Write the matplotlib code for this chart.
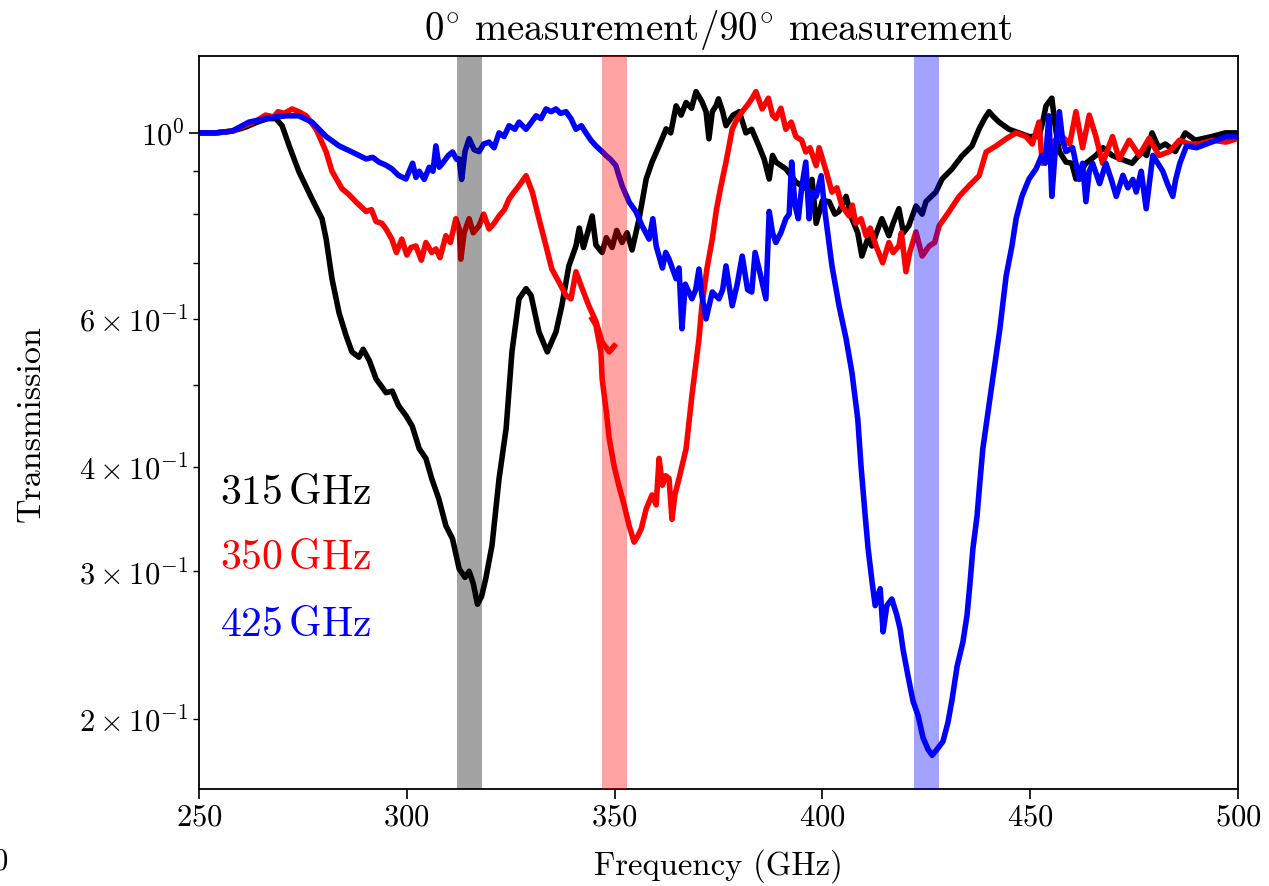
import matplotlib
matplotlib.use("Agg")
import matplotlib.pyplot as plt
import numpy as np

plt.rcParams.update({
    "font.family": "serif",
    "font.serif": ["cmr10"],
    "mathtext.fontset": "cm",
    "axes.formatter.use_mathtext": True,
    "axes.unicode_minus": False,
})

# 315 GHz filter (black)
f_315 = [250, 254, 258, 261, 264, 266.5, 268.5, 270, 271.7, 274, 277.2, 279.6, 280.6, 282, 283.7,
         285.4, 286.8, 288.5, 289.5, 291, 292.6, 295, 296.5, 298, 299.8, 301.3, 303, 304.6, 306,
         307.7, 309.4, 311, 312.6, 314, 315, 316, 317, 318, 319, 320.5, 322.2, 323.9, 325.3, 327,
         328.7, 329.9, 331.8, 333.8, 335.9, 337.3, 339, 340.7, 341.5, 342.5, 343.5, 344.6, 345.5,
         347, 348, 349.4, 350.5, 351.8, 353, 354.2, 355.9, 357.6, 359, 360.7, 362.4, 363.5, 364.8,
         366, 367.2, 368.5, 369.6, 371, 372, 372.7, 373.5, 374.4, 375, 376, 376.8, 378.5, 380,
         381.6, 383, 384.7, 386, 387.2, 388, 388.8, 391.2, 393.6, 396, 397.5, 398.5, 400, 401.6,
         403, 404, 405.7, 407.1, 408.5, 409.5, 411, 411.9, 413, 414.3, 416, 417, 418.4, 419.5,
         420.8, 422.5, 424, 424.9, 427.3, 428.8, 431.2, 433.6, 436, 437.7, 439, 440.1, 441.2,
         442.5, 444.9, 447.3, 449.7, 452.1, 453, 453.8, 455.2, 456, 457, 458.6, 460, 461, 463.4,
         465.8, 467.5, 469.7, 472, 474.5, 476.9, 478, 479.3, 480.9, 482.5, 484.9, 487.3, 489.7,
         493.7, 496.9, 500]
t_315 = [1.0, 1.0, 1.005, 1.015, 1.03, 1.04, 1.04, 1.02, 0.965, 0.90, 0.834, 0.79, 0.747, 0.67, 0.61,
         0.573, 0.548, 0.54, 0.552, 0.535, 0.509, 0.49, 0.492, 0.473, 0.46, 0.447, 0.42, 0.409, 0.387,
         0.366, 0.34, 0.328, 0.302, 0.295, 0.30, 0.29, 0.274, 0.28, 0.294, 0.322, 0.387, 0.444, 0.548, 0.634,
         0.652, 0.64, 0.579, 0.548, 0.579, 0.622, 0.694, 0.733, 0.77, 0.73, 0.76, 0.796, 0.735,
         0.72, 0.75, 0.73, 0.765, 0.74, 0.76, 0.725, 0.79, 0.881, 0.923, 0.965, 1.011, 1.00, 1.077,
         1.05, 1.087, 1.07, 1.12, 1.09, 1.06, 0.984, 1.06, 1.077, 1.098, 1.06, 1.02, 1.05, 1.06,
         1.0, 1.01, 0.965, 0.93, 0.881, 0.94, 0.923, 0.906, 0.874, 0.858, 0.88, 0.78, 0.83, 0.828,
         0.80, 0.806, 0.84, 0.79, 0.76, 0.713, 0.75, 0.733, 0.76, 0.79, 0.754, 0.78, 0.812, 0.76,
         0.775, 0.818, 0.80, 0.828, 0.85, 0.881, 0.906, 0.939, 0.965, 1.011, 1.04, 1.06, 1.045,
         1.03, 1.01, 1.0, 0.99, 0.99, 1.03, 1.077, 1.10, 1.02, 0.95, 0.923, 0.92, 0.881, 0.92,
         0.94, 0.96, 0.94, 0.93, 0.92, 0.95, 0.94, 1.0, 0.96, 0.97, 0.95, 1.0, 0.98,
         0.99, 1.0, 1.0]

# 350 GHz filter (red), two frequency sweeps
f_350a = [250, 254, 258, 261, 264, 266, 268, 269, 270.5, 272.4, 274, 275.8, 278.2, 280.6, 282, 284.4,
          286, 287.8, 290.2, 291.5, 292.6, 294, 295, 296.4, 297.5, 298.8, 300, 301, 302.2, 303.5,
          304.6, 306, 307, 308, 309.4, 310.5, 311.8, 312.6, 313, 313.8, 315, 316, 317.4, 318.5,
          319.8, 321, 322.2, 323.5, 324.6, 325.8, 327, 328.7, 330.2, 331.8, 333.5, 334.9, 336.6,
          338.3, 339.5, 340.7, 342.2, 343.8, 345.5, 347, 348.7, 349.9]
t_350a = [1.0, 1.0, 1.005, 1.02, 1.035, 1.05, 1.045, 1.06, 1.055, 1.068, 1.06, 1.048, 1.01, 0.949, 0.90, 0.858,
          0.845, 0.827, 0.806, 0.81, 0.784, 0.78, 0.768, 0.747, 0.72, 0.747, 0.715, 0.73, 0.733, 0.705,
          0.74, 0.72, 0.727, 0.71, 0.754, 0.74, 0.79, 0.768, 0.707, 0.76, 0.79, 0.76, 0.775, 0.80,
          0.768, 0.78, 0.796, 0.81, 0.834, 0.85, 0.865, 0.889, 0.85, 0.79, 0.733, 0.688, 0.664,
          0.64, 0.634, 0.683, 0.652, 0.622, 0.596, 0.563, 0.548, 0.557]
f_350b = [344.6, 345.5, 346.7, 347, 348, 348.7, 349.9, 351, 352.3, 353.5, 354.7, 355.5, 356.4, 357.6,
          359, 360, 360.7, 361.5, 362.3, 363.1, 363.8, 364.5, 365.5, 367.2, 368.6, 370.3, 371, 372.2,
          373.5, 374.5, 375.5, 376.8, 378.3, 379.5, 380.7, 382, 383, 384, 385.5, 387, 388, 388.8,
          390, 391.2, 392.5, 393.6, 395, 396, 397, 398.5, 399.2, 400.9, 402.3, 403.5, 404.7, 406.4,
          407.2, 408, 409.3, 410.5, 411.5, 412.9, 414.5, 416, 417, 418.4, 419, 420.1, 421, 422.5,
          424, 425.7, 427, 428.1, 430.5, 432.9, 435.3, 437.7, 439.4, 441.8, 444.2, 446.6, 449,
          450.5, 452.1, 452.9, 454.5, 456, 457.7, 459.5, 461, 462.6, 464.2, 465.8, 467.4, 469.8,
          471.4, 473.8, 476.2, 478.6, 481, 483.5, 485.9, 488.3, 490.7, 493.9, 497.1, 500]
t_350b = [0.60, 0.59, 0.548, 0.509, 0.465, 0.432, 0.40, 0.38, 0.36, 0.34, 0.325, 0.33, 0.337, 0.356,
          0.37, 0.36, 0.409, 0.38, 0.39, 0.387, 0.346, 0.37, 0.387, 0.42, 0.486, 0.568, 0.622, 0.688,
          0.747, 0.81, 0.86, 0.923, 1.01, 1.04, 1.06, 1.08, 1.098, 1.12, 1.068, 1.10, 1.05, 1.04,
          1.07, 1.01, 1.03, 0.99, 0.98, 0.949, 0.96, 0.914, 0.96, 0.90, 0.85, 0.86, 0.818, 0.796,
          0.82, 0.78, 0.79, 0.754, 0.77, 0.733, 0.70, 0.74, 0.72, 0.733, 0.76, 0.683, 0.72, 0.762,
          0.713, 0.733, 0.74, 0.775, 0.806, 0.84, 0.865, 0.889, 0.949, 0.965, 0.984, 1.0, 0.99,
          0.97, 1.03, 0.92, 0.965, 0.98, 0.99, 0.97, 1.06, 0.96, 1.05, 0.99, 0.92, 0.99,
          0.93, 0.98, 0.94, 0.985, 0.94, 0.95, 0.98, 0.97, 0.97, 0.98, 0.975, 0.985]

# 425 GHz filter (blue)
f_425 = [250, 254, 258, 262, 266.1, 268.5, 271, 274, 277.2, 280.6, 283.7, 286.8, 288.5, 290.2, 291.8,
         293.3, 295, 296.4, 298, 299.8, 300.6, 301.4, 302.2, 303, 304.2, 305.4, 306.3, 307, 307.8,
         308.6, 310, 311, 312, 312.6, 313.2, 314, 315, 316.2, 317.4, 318.5, 319.8, 321, 322.2,
         323.4, 324.6, 326, 327, 328.7, 330, 331.1, 332.3, 333.5, 334.7, 335.9, 337, 338.3, 339.5,
         340.7, 342, 343.1, 344.3, 345.5, 347, 347.9, 349, 350.3, 351, 351.8, 353.5, 355.1, 356.6,
         358.3, 359.2, 360, 361.5, 362.3, 363.1, 364.8, 365.5, 366.2, 367, 368.6, 369.5, 370.3,
         371, 372, 373.5, 375.1, 376, 376.8, 378.3, 379.5, 380.7, 382, 383, 383.8, 385, 386.4,
         387.2, 388, 388.8, 390, 391.2, 392, 392.6, 393.4, 394.2, 395, 396, 396.8, 397.6, 398.5,
         399.7, 400.6, 402.3, 404, 405.7, 407.1, 408.5, 409.3, 410.3, 411, 412, 412.7, 413.9,
         414.6, 415.5, 416.7, 417.9, 418.7, 419.4, 420.6, 421.8, 423, 424.2, 425.4, 426.4, 427.6,
         429, 430.2, 431.2, 432.4, 433.8, 434.8, 435.5, 436.2, 437.2, 437.9, 438.6, 440.3, 442.7,
         444.2, 445.6, 446.6, 448, 449.7, 451.4, 452.8, 453.6, 454.5, 455.2, 456, 457, 457.8,
         458.6, 460.2, 461.8, 462.6, 463.4, 464.2, 465, 466.7, 468.2, 469.5, 470.7, 472.3, 473.5,
         474.7, 475.5, 476.7, 477.9, 479.5, 480.7, 481.9, 483, 484.3, 485, 486, 487.6, 490,
         492.4, 494.8, 497.2, 500]
t_425 = [1.0, 1.0, 1.005, 1.03, 1.04, 1.045, 1.048, 1.048, 1.03, 0.99, 0.965, 0.949, 0.94, 0.931, 0.935,
         0.923, 0.915, 0.906, 0.89, 0.881, 0.90, 0.92, 0.885, 0.90, 0.88, 0.91, 0.90, 0.965, 0.91,
         0.92, 0.94, 0.949, 0.93, 0.931, 0.88, 0.95, 0.984, 0.955, 0.95, 0.97, 0.975, 0.96, 1.0,
         0.99, 1.02, 1.01, 1.03, 1.01, 1.03, 1.048, 1.04, 1.068, 1.06, 1.068, 1.055, 1.06, 1.04,
         1.01, 1.02, 1.0, 0.98, 0.965, 0.95, 0.94, 0.93, 0.914, 0.89, 0.865, 0.827, 0.806, 0.775,
         0.747, 0.79, 0.733, 0.69, 0.72, 0.707, 0.67, 0.69, 0.584, 0.66, 0.634, 0.65, 0.688,
         0.64, 0.60, 0.646, 0.634, 0.65, 0.694, 0.622, 0.66, 0.713, 0.65, 0.646, 0.72, 0.68, 0.634,
         0.806, 0.76, 0.74, 0.76, 0.79, 0.80, 0.923, 0.82, 0.79, 0.86, 0.923, 0.79, 0.85, 0.84,
         0.889, 0.806, 0.694, 0.622, 0.568, 0.518, 0.456, 0.40, 0.349, 0.319, 0.29, 0.273, 0.286,
         0.254, 0.273, 0.278, 0.266, 0.256, 0.242, 0.225, 0.21, 0.202, 0.19, 0.184, 0.181, 0.184,
         0.188, 0.198, 0.211, 0.231, 0.247, 0.266, 0.29, 0.319, 0.349, 0.384, 0.42, 0.482, 0.584,
         0.675, 0.733, 0.79, 0.84, 0.881, 0.906, 0.94, 0.92, 1.048, 0.84, 0.95, 1.06, 0.98,
         0.95, 0.96, 0.88, 0.92, 0.828, 0.90, 0.92, 0.87, 0.92, 0.88, 0.84, 0.89, 0.86,
         0.88, 0.85, 0.90, 0.812, 0.94, 0.92, 0.90, 0.87, 0.84, 0.88, 0.92, 0.965, 0.96,
         0.97, 0.98, 0.99, 0.99]

band_centres = [315, 350, 425]
band_halfwidth = 3
band_colors = ["black", "red", "blue"]
labels = [r"$315\,\mathrm{GHz}$", r"$350\,\mathrm{GHz}$", r"$425\,\mathrm{GHz}$"]

fig = plt.figure(figsize=(12.69, 8.87), dpi=100)
ax = fig.add_axes([0.1568, 0.1094, 0.8188, 0.8263])

lw = 4.0
ax.plot(f_315, t_315, color="black", lw=lw, zorder=2)
ax.plot(f_350a, t_350a, color="red", lw=lw, zorder=2)
ax.plot(f_350b, t_350b, color="red", lw=lw, zorder=2)
ax.plot(f_425, t_425, color="blue", lw=lw, zorder=2)

for c, col in zip(band_centres, band_colors):
    ax.axvspan(c - band_halfwidth, c + band_halfwidth, color=col, alpha=0.36, lw=0, zorder=3)

ax.set_yscale("log")
ax.set_xlim(250, 500)
ax.set_ylim(0.165, 1.235)
ax.set_xticks([250, 300, 350, 400, 450, 500])
ax.tick_params(axis="both", which="both", labelsize=22)
ax.tick_params(axis="both", which="major", length=7, width=1.2)
ax.tick_params(axis="y", which="minor", length=4, width=1.0)
for s in ax.spines.values():
    s.set_linewidth(1.3)

ax.set_xlabel("Frequency (GHz)", fontsize=23.5, labelpad=12)
ax.set_ylabel("Transmission", fontsize=24.5, labelpad=24)
ax.set_title(r"$0^{\circ}$ measurement/$90^{\circ}$ measurement", fontsize=28, pad=12)

for lab, col, yy in zip(labels, band_colors, [0.405, 0.3165, 0.225]):
    ax.text(0.02, yy, lab, color=col, fontsize=30, transform=ax.transAxes, va="center", ha="left")

fig.text(0.0, 1 - 862 / 887, "0", fontsize=22, ha="center", va="center")

fig.savefig("out.png", dpi=100)
